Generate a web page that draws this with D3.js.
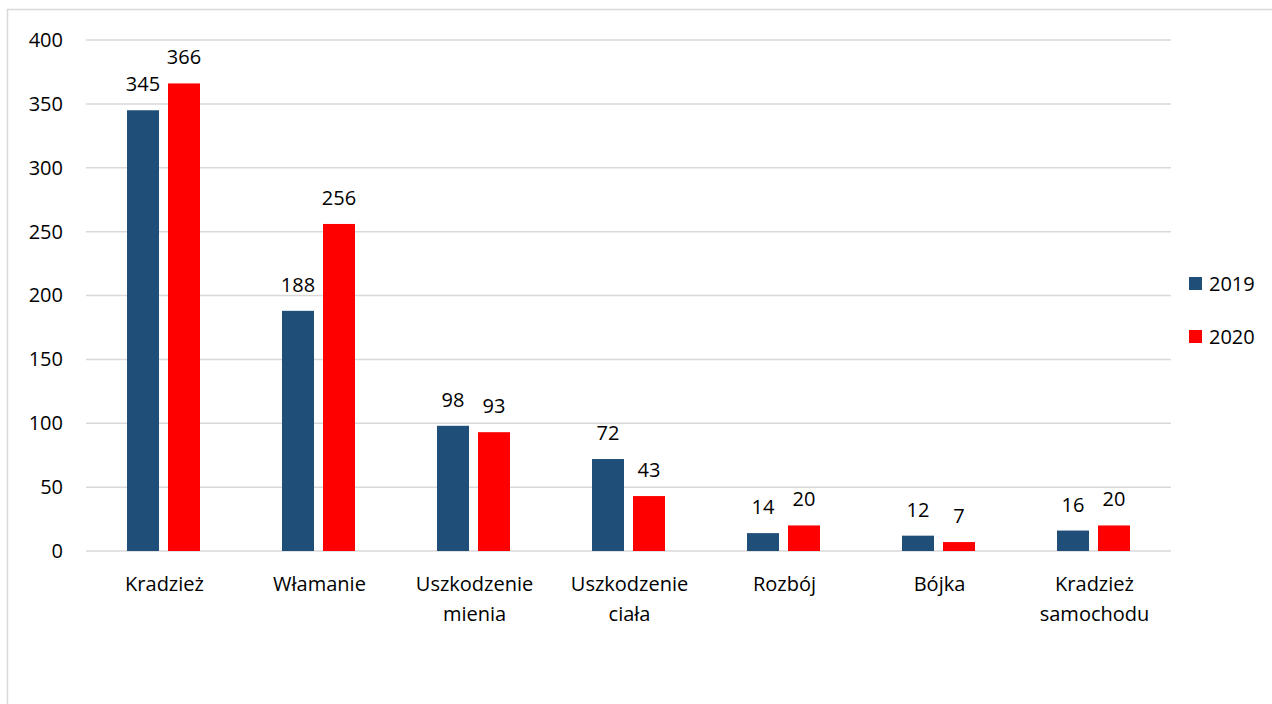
<!DOCTYPE html>
<html>
<head>
<meta charset="utf-8">
<script src="https://cdn.jsdelivr.net/npm/d3@7"></script>
<style>
  body { margin: 0; background: #fff; }
  svg text { font-family: "Open Sans", sans-serif; fill: #000; }
</style>
</head>
<body>
<div id="chart"></div>
<script>
// Chart data
const categories = [['Kradzież'], ['Włamanie'], ['Uszkodzenie', 'mienia'], ['Uszkodzenie', 'ciała'], ['Rozbój'], ['Bójka'], ['Kradzież', 'samochodu']]
const series = ['2019', '2020']
const values2019 = [345, 188, 98, 72, 14, 12, 16]
const values2020 = [366, 256, 93, 43, 20, 7, 20]
const yTicks = [0, 50, 100, 150, 200, 250, 300, 350, 400]
const colors = ['#1f4e79', '#ff0000']

var width = 1272
var height = 704
var margin = { top: 40, right: 101, bottom: 153, left: 86 }
var innerW = width - margin.left - margin.right
var innerH = height - margin.top - margin.bottom
var fontSize = '20px'

var svg = d3.select('#chart')
  .append('svg')
  .attr('width', width)
  .attr('height', height)

// outer frame
svg.append('rect')
  .attr('x', 7.5).attr('y', 9.5)
  .attr('width', width + 10).attr('height', height + 10)
  .attr('fill', 'none').attr('stroke', '#d9d9d9').attr('stroke-width', 1.5)

var g = svg.append('g')
  .attr('transform', `translate(${margin.left}, ${margin.top})`)

const xScale = d3.scaleBand()
  .domain(d3.range(categories.length))
  .range([0, innerW])

const yScale = d3.scaleLinear()
  .domain([0, 400])
  .range([innerH, 0])

// gridlines
g.selectAll('.grid')
  .data(yTicks)
  .enter()
  .append('line')
  .attr('x1', 0).attr('x2', innerW)
  .attr('y1', (d) => yScale(d)).attr('y2', (d) => yScale(d))
  .attr('stroke', '#d9d9d9').attr('stroke-width', 1.5)

// y axis labels
const yAxis = d3.axisLeft(yScale).tickValues(yTicks).tickSize(0).tickPadding(23)
g.append('g')
  .call(yAxis)
  .call((a) => a.select('.domain').remove())
  .selectAll('text')
  .style('font-size', fontSize)

// bars
const barW = 32
const offsets = [-20.5, 20.5]
const allSeries = [values2019, values2020]
allSeries.forEach((vals, s) => {
  g.selectAll('.bar' + s)
    .data(vals)
    .enter()
    .append('rect')
    .attr('x', (d, i) => xScale(i) + xScale.bandwidth() / 2 + offsets[s] - barW / 2)
    .attr('width', barW)
    .attr('y', (d) => yScale(d))
    .attr('height', (d) => innerH - yScale(d))
    .attr('fill', colors[s])

  g.selectAll('.lbl' + s)
    .data(vals)
    .enter()
    .append('text')
    .attr('x', (d, i) => xScale(i) + xScale.bandwidth() / 2 + offsets[s])
    .attr('y', (d) => yScale(d) - 19)
    .attr('text-anchor', 'middle')
    .style('font-size', fontSize)
    .text((d) => d)
})

// x category labels
const xLab = g.selectAll('.xlab')
  .data(categories)
  .enter()
  .append('text')
  .attr('text-anchor', 'middle')
  .attr('transform', (d, i) => `translate(${xScale(i) + xScale.bandwidth() / 2 + 1}, ${innerH + 40})`)
  .style('font-size', fontSize)
xLab.selectAll('tspan')
  .data((d) => d)
  .enter()
  .append('tspan')
  .attr('x', 0)
  .attr('dy', (d, j) => j === 0 ? 0 : 30)
  .text((d) => d)

// legend
const legend = svg.append('g')
  .attr('transform', 'translate(1189, 277)')
series.forEach((s, i) => {
  legend.append('rect')
    .attr('x', 0).attr('y', i * 53)
    .attr('width', 13).attr('height', 13)
    .attr('fill', colors[i])
  legend.append('text')
    .attr('x', 20).attr('y', i * 53 + 14)
    .style('font-size', fontSize)
    .text(s)
})
</script>
</body>
</html>
